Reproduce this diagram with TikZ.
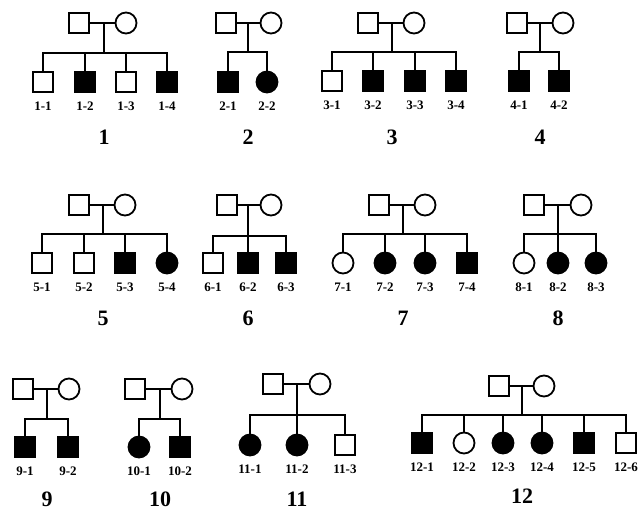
\documentclass[tikz,border=0pt]{standalone}
\usepackage{fontspec}
\setmainfont{Liberation Serif}
\tikzset{
  lw/.style={line width=1.8pt},
  male/.style={draw, lw, rectangle, minimum size=20pt, inner sep=0pt, fill=white},
  female/.style={draw, lw, circle, minimum size=21pt, inner sep=0pt, fill=white},
  amale/.style={male, fill=black},
  afemale/.style={female, fill=black},
  idlabel/.style={font=\bfseries\fontsize{13}{13}\selectfont, inner sep=0pt},
  famlabel/.style={font=\bfseries\fontsize{22}{22}\selectfont, inner sep=0pt},
  conn/.style={lw}
}
% #1 id, #2 father x, #3 mother x, #4 parents y, #5 drop x, #6 sibship y, #7 child y, #8 children x/style, #9 family number y
\newcommand\pedfamily[9]{%
  \node[male] (f#1) at (#2,#4) {};
  \node[female] (m#1) at (#3,#4) {};
  \draw[conn] (f#1.east) -- (m#1.west);
  \coordinate (d#1) at (#5,#4);
  \coordinate (s#1) at (#5,#6);
  \draw[conn] (d#1) -- (s#1);
  \foreach \cx/\st [count=\i] in {#8}{%
    \node[\st] (c#1x\i) at (\cx,#7) {};
    \draw[conn] (c#1x\i.north) -- (c#1x\i |- s#1) -- (s#1);
    \node[idlabel] (l#1x\i) at (\cx,#7+24) {#1-\i};
  }
  \node[famlabel] (n#1) at (#5,#9) {#1};
}
\begin{document}
\begin{tikzpicture}[x=1pt,y=-1pt]
\useasboundingbox (0,0) rectangle (644,513);
\pedfamily{1}{79}{126}{23}{104}{53}{82}{43/male,85/amale,126/male,167/amale}{137}
\pedfamily{2}{226}{271}{23}{248}{52}{82}{228/amale,267/afemale}{137}
\pedfamily{3}{368}{414}{23}{392}{52}{81}{332/male,373/amale,415/amale,456/amale}{137}
\pedfamily{4}{517}{563}{23}{540}{52}{81}{519/amale,559/amale}{137}
\pedfamily{5}{79}{125}{205}{103}{234}{263}{42/male,84/male,125/amale,167/afemale}{318}
\pedfamily{6}{227}{271}{205}{248}{236}{263}{213/male,248/amale,286/amale}{318}
\pedfamily{7}{379}{425}{205}{403}{234}{263}{343/female,385/afemale,425/afemale,467/amale}{318}
\pedfamily{8}{534}{581}{205}{558}{234}{263}{524/female,558/afemale,596/afemale}{318}
\pedfamily{9}{23}{69}{389}{47}{419}{447}{25/amale,68/amale}{499}
\pedfamily{10}{135}{182}{389}{160}{419}{447}{139/afemale,180/amale}{499}
\pedfamily{11}{273}{320}{384}{297}{415}{445}{250/afemale,297/afemale,345/male}{499}
\pedfamily{12}{499}{544}{386}{522}{415}{443}{422/amale,464/female,503/afemale,542/afemale,584/amale,626/male}{496}
\end{tikzpicture}
\end{document}
